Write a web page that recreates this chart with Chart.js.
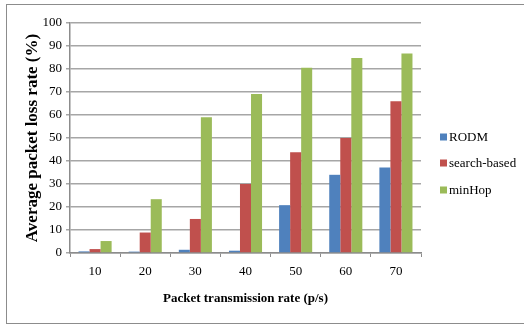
<!DOCTYPE html>
<html>
<head>
<meta charset="utf-8">
<script src="https://cdn.jsdelivr.net/npm/chart.js@4/dist/chart.umd.min.js"></script>
<style>
  html, body { margin: 0; padding: 0; background: #fff; }
  #wrap { position: relative; width: 524px; height: 326px; overflow: hidden; }
  #frame { position: absolute; left: 6px; top: 4px; width: 600px; height: 318px;
           border: 1px solid #8c8c8c; border-right: none; box-sizing: content-box; }
  canvas { position: absolute; left: 0; top: 0; }
</style>
</head>
<body>
<div id="wrap">
  <div id="frame"></div>
  <canvas id="chart" width="524" height="326"></canvas>
</div>
<script>
// Packet transmission rate (p/s)
const rates = ['10', '20', '30', '40', '50', '60', '70'];
// Average packet loss rate (%) per routing scheme
const rodm = [0.7, 0.6, 1.4, 1.0, 20.8, 34.0, 37.2];
const searchBased = [1.7, 8.9, 14.8, 30.0, 43.8, 50.0, 66.0];
const minHop = [5.2, 23.4, 59.0, 69.1, 80.5, 84.8, 86.7];

const seriesNames = ['RODM', 'search-based', 'minHop'];
const seriesColors = ['#4f81bd', '#c0504d', '#9bbb59'];

const serif = "'Liberation Serif', 'Times New Roman', serif";

// Legend on the right, stacked entries with small square keys
const sideLegend = {
  id: 'sideLegend',
  afterDraw(chart) {
    const { ctx, chartArea } = chart;
    const x = chartArea.right + 19;
    const rows = [137, 163, 190];
    ctx.save();
    ctx.font = '13px ' + serif;
    ctx.textBaseline = 'middle';
    ctx.textAlign = 'left';
    chart.data.datasets.forEach((ds, i) => {
      ctx.fillStyle = ds.backgroundColor;
      ctx.fillRect(x, rows[i] - 3.5, 7, 7);
      ctx.fillStyle = '#000';
      ctx.fillText(ds.label, x + 9, rows[i] + 0.5);
    });
    ctx.restore();
  }
};

new Chart(document.getElementById('chart'), {
  type: 'bar',
  data: {
    labels: rates,
    datasets: [rodm, searchBased, minHop].map((vals, i) => ({
      label: seriesNames[i],
      data: vals,
      backgroundColor: seriesColors[i],
      categoryPercentage: 0.66,
      barPercentage: 1.0
    }))
  },
  options: {
    responsive: false,
    animation: false,
    layout: { padding: { top: 23, right: 103, bottom: 20, left: 0 } },
    plugins: {
      legend: { display: false },
      tooltip: { enabled: false }
    },
    scales: {
      x: {
        offset: true,
        grid: {
          offset: true,
          drawOnChartArea: false,
          tickLength: 4,
          color: '#8c8c8c',
          lineWidth: 1
        },
        border: { color: '#8c8c8c', width: 1.5 },
        ticks: { color: '#000', font: { family: serif, size: 13 }, padding: 7 },
        title: {
          display: true,
          text: 'Packet transmission rate (p/s)',
          color: '#000',
          font: { family: serif, size: 13, weight: 'bold' },
          padding: 0
        },
        afterFit(scale) { scale.height = 53; }
      },
      y: {
        min: 0,
        max: 100,
        ticks: { stepSize: 10, color: '#000', font: { family: serif, size: 13 }, padding: 4 },
        grid: { color: '#a6a6a6', lineWidth: 1.5, tickLength: 4 },
        border: { color: '#8c8c8c', width: 1.5 },
        title: {
          display: true,
          text: 'Average packet loss rate (%)',
          color: '#000',
          font: { family: serif, size: 17, weight: 'bold' },
          padding: { top: 22, bottom: 0 }
        },
        afterFit(scale) { scale.width = 70; }
      }
    }
  },
  plugins: [sideLegend]
});
</script>
</body>
</html>
